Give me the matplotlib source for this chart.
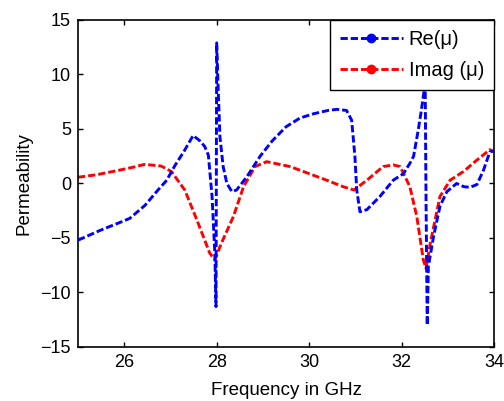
import matplotlib
matplotlib.use("Agg")
import matplotlib.pyplot as plt
from matplotlib.lines import Line2D

# Re(mu) trace
freq_re = [25.0, 25.48, 25.95, 26.12, 26.45, 26.73, 26.92, 27.09, 27.3, 27.49, 27.64,
           27.74, 27.82, 27.9, 27.96, 27.985, 28.0, 28.03, 28.07, 28.14, 28.22, 28.33,
           28.43, 28.65, 28.94, 29.2, 29.5, 29.8, 30.1, 30.41, 30.6, 30.81, 30.92,
           30.99, 31.03, 31.1, 31.25, 31.53, 31.82, 32.04, 32.18, 32.26, 32.36, 32.42,
           32.48, 32.51, 32.53, 32.555, 32.58, 32.69, 32.83, 32.98, 33.19, 33.35,
           33.48, 33.63, 33.77, 33.91, 34.0]
re_mu = [-5.2, -4.3, -3.5, -3.2, -2.0, -0.6, 0.3, 1.6, 3.0, 4.4, 3.9,
         3.4, 2.6, -1.2, -6.4, -11.3, 12.9, 8.9, 4.3, 1.55, 0.0, -0.75,
         -0.6, 0.6, 2.5, 3.9, 5.2, 6.0, 6.4, 6.7, 6.8, 6.7, 5.8,
         2.5, -0.6, -2.6, -2.4, -1.2, 0.3, 0.9, 1.85, 2.5, 4.9, 6.5,
         8.3, 9.5, -2.0, -13.0, -7.6, -4.9, -2.1, -0.75, 0.0, -0.3,
         -0.35, -0.1, 1.2, 2.9, 3.0]

# Imag(mu) trace
freq_im = [25.0, 25.4, 25.87, 26.2, 26.44, 26.8, 27.02, 27.31, 27.6, 27.85, 27.96,
           28.1, 28.36, 28.58, 28.83, 29.08, 29.59, 30.0, 30.38, 30.74, 30.97,
           31.25, 31.6, 31.82, 31.97, 32.18, 32.33, 32.47, 32.53, 32.62, 32.83,
           33.05, 33.34, 33.63, 33.91, 34.0]
im_mu = [0.57, 0.8, 1.2, 1.5, 1.75, 1.6, 1.1, -0.6, -3.65, -6.4, -7.0,
         -5.5, -3.05, -0.3, 1.55, 2.0, 1.55, 0.9, 0.3, -0.3, -0.6,
         0.3, 1.55, 1.7, 1.55, -0.3, -3.05, -7.0, -7.8, -5.5, -1.2,
         0.3, 1.1, 2.15, 3.1, 2.9]

series_labels = ['Re(\u03bc)', 'Imag (\u03bc)']
x_ticks = [26, 28, 30, 32, 34]
y_ticks = [-15, -10, -5, 0, 5, 10, 15]

plt.rcParams['font.family'] = ['Liberation Sans', 'DejaVu Sans']

fig = plt.figure(figsize=(5.04, 4.01), dpi=100)
ax = fig.add_axes([0.1548, 0.1347, 0.8254, 0.8155])

lw = 2.1
dash = (2.5, 1.0)
ax.plot(freq_re, re_mu, color='#0000ff', lw=lw, dashes=dash, zorder=3)
ax.plot(freq_im, im_mu, color='#ff0000', lw=lw, dashes=dash, zorder=2)

ax.set_xlim(25, 34)
ax.set_ylim(-15, 15)
ax.set_xticks(x_ticks)
ax.set_yticks(y_ticks)
ax.tick_params(direction='in', length=3.5, width=1, top=True, right=True,
               labelsize=13, pad=5)
for s in ax.spines.values():
    s.set_linewidth(1.2)

ax.set_xlabel('Frequency in GHz', fontsize=13.5, labelpad=8)
ax.set_ylabel('Permeability', fontsize=13.5, labelpad=6)

handles = [
    Line2D([], [], color='#0000ff', lw=lw, dashes=dash, marker='o', markersize=6),
    Line2D([], [], color='#ff0000', lw=lw, dashes=dash, marker='o', markersize=6),
]
leg = ax.legend(handles, series_labels, loc='upper right',
                bbox_to_anchor=(1, 1), borderaxespad=0, fontsize=14.5,
                handlelength=3.1, numpoints=1, fancybox=False, framealpha=1,
                edgecolor='black', labelspacing=0.6, handletextpad=0.3,
                borderpad=0.5)
leg.get_frame().set_linewidth(1.0)
leg.set_zorder(10)

fig.savefig('out.png', dpi=100)
